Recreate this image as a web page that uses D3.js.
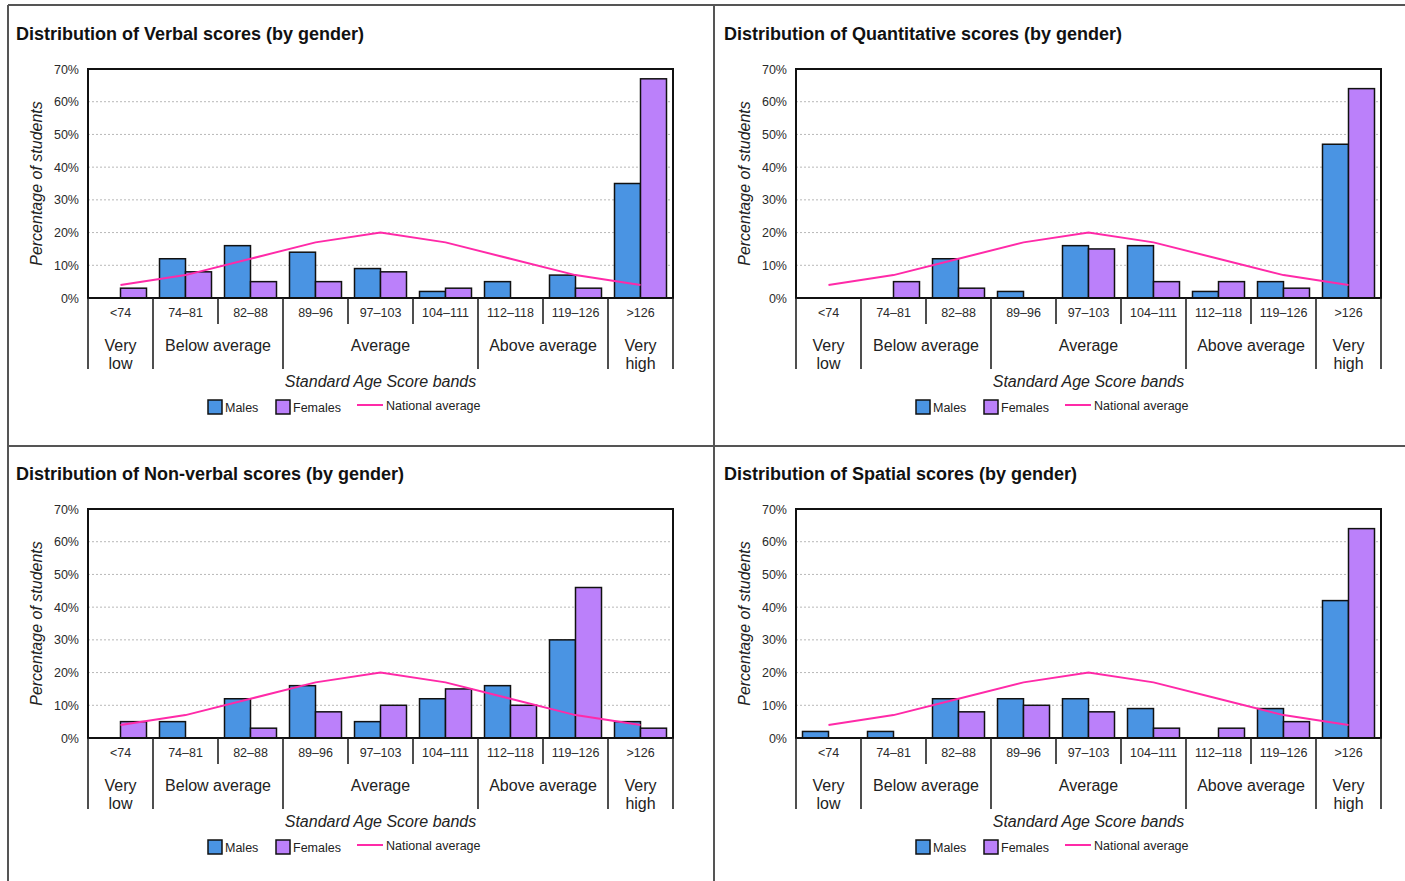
<!DOCTYPE html>
<html>
<head>
<meta charset="utf-8">
<script src="https://cdn.jsdelivr.net/npm/d3@7"></script>
<style>
  html, body { margin: 0; padding: 0; background: #fff; }
  svg { display: block; font-family: "Liberation Sans", Arial, Helvetica, sans-serif; }
</style>
</head>
<body>
<svg id="chart" width="1405" height="881"></svg>
<script>
// ---- Data ----
const bands = ["<74", "74–81", "82–88", "89–96", "97–103", "104–111", "112–118", "119–126", ">126"];
const groups = [
  { name: ["Very", "low"], from: "<74", to: "<74" },
  { name: ["Below average"], from: "74–81", to: "82–88" },
  { name: ["Average"], from: "89–96", to: "104–111" },
  { name: ["Above average"], from: "112–118", to: "119–126" },
  { name: ["Very", "high"], from: ">126", to: ">126" }
];
const nationalAverage = [4, 7, 12, 17, 20, 17, 12, 7, 4];

const verbalMales      = [0, 12, 16, 14, 9, 2, 5, 7, 35];
const verbalFemales    = [3, 8, 5, 5, 8, 3, 0, 3, 67];
const quantMales       = [0, 0, 12, 2, 16, 16, 2, 5, 47];
const quantFemales     = [0, 5, 3, 0, 15, 5, 5, 3, 64];
const nonverbalMales   = [0, 5, 12, 16, 5, 12, 16, 30, 5];
const nonverbalFemales = [5, 0, 3, 8, 10, 15, 10, 46, 3];
const spatialMales     = [2, 2, 12, 12, 12, 9, 0, 9, 42];
const spatialFemales   = [0, 0, 8, 10, 8, 3, 3, 5, 64];

const yTicks = [0, 10, 20, 30, 40, 50, 60, 70];
const seriesNames = ["Males", "Females"];
const seriesColors = ["#4a94e3", "#bb80fa"];
const lineColor = "#ff2aa8";

const panels = [
  { title: "Distribution of Verbal scores (by gender)", males: verbalMales, females: verbalFemales, ox: 0, oy: 0 },
  { title: "Distribution of Quantitative scores (by gender)", males: quantMales, females: quantFemales, ox: 708, oy: 0 },
  { title: "Distribution of Non-verbal scores (by gender)", males: nonverbalMales, females: nonverbalFemales, ox: 0, oy: 440 },
  { title: "Distribution of Spatial scores (by gender)", males: spatialMales, females: spatialFemales, ox: 708, oy: 440 }
];

// ---- Drawing ----
const svg = d3.select("#chart");

// panel grid lines
const grid = svg.append("g").attr("stroke", "#555").attr("stroke-width", 2);
grid.append("line").attr("x1", 8).attr("x2", 1405).attr("y1", 5).attr("y2", 5);
grid.append("line").attr("x1", 8).attr("x2", 8).attr("y1", 5).attr("y2", 881);
grid.append("line").attr("x1", 714).attr("x2", 714).attr("y1", 5).attr("y2", 881);
grid.append("line").attr("x1", 8).attr("x2", 1405).attr("y1", 446).attr("y2", 446);

const L = 88, R = 673, T = 69, B = 298;

panels.forEach(p => {
  const g = svg.append("g").attr("transform", `translate(${p.ox},${p.oy})`);

  const x = d3.scaleBand().domain(bands).range([L, R]).paddingInner(0).paddingOuter(0);
  const xs = d3.scaleBand().domain(seriesNames).range([0, x.bandwidth()]).paddingInner(0).paddingOuter(0.25);
  const y = d3.scaleLinear().domain([0, 70]).range([B, T]);

  // title
  g.append("text").attr("x", 16).attr("y", 40)
    .attr("font-size", 18).attr("font-weight", "bold").attr("fill", "#111")
    .text(p.title);

  // gridlines
  g.append("g").selectAll("line").data(yTicks.filter(t => t > 0 && t < 70)).join("line")
    .attr("x1", L).attr("x2", R)
    .attr("y1", d => y(d)).attr("y2", d => y(d))
    .attr("stroke", "#b8b8b8").attr("stroke-width", 1).attr("stroke-dasharray", "2,2");

  // y axis
  const yAxis = g.append("g").attr("transform", `translate(${L},0)`)
    .call(d3.axisLeft(y).tickValues(yTicks).tickSize(0).tickPadding(9).tickFormat(d => d + "%"));
  yAxis.select(".domain").remove();
  yAxis.selectAll("text").attr("font-size", 12.5).attr("fill", "#2a2a2a").attr("font-family", null);

  // y title
  g.append("text")
    .attr("transform", `translate(42,${(T + B) / 2}) rotate(-90)`)
    .attr("text-anchor", "middle").attr("font-size", 16).attr("font-style", "italic").attr("fill", "#222")
    .text("Percentage of students");

  // bars
  const data = bands.map((b, i) => ({ band: b, vals: [p.males[i], p.females[i]] }));
  const bg = g.append("g");
  data.forEach(d => {
    d.vals.forEach((v, k) => {
      if (v <= 0) return;
      bg.append("rect")
        .attr("x", x(d.band) + xs(seriesNames[k]))
        .attr("y", y(v))
        .attr("width", xs.bandwidth())
        .attr("height", y(0) - y(v))
        .attr("fill", seriesColors[k])
        .attr("stroke", "#111").attr("stroke-width", 1.5);
    });
  });

  // national average line
  const line = d3.line().x((d, i) => x(bands[i]) + x.bandwidth() / 2).y(d => y(d));
  g.append("path").datum(nationalAverage).attr("d", line)
    .attr("fill", "none").attr("stroke", lineColor).attr("stroke-width", 2);

  // plot frame
  g.append("rect").attr("x", L).attr("y", T).attr("width", R - L).attr("height", B - T)
    .attr("fill", "none").attr("stroke", "#111").attr("stroke-width", 2);

  // x axis tick labels
  const xAxis = g.append("g").attr("transform", `translate(0,${B})`)
    .call(d3.axisBottom(x).tickSize(0).tickPadding(10));
  xAxis.select(".domain").remove();
  xAxis.selectAll("text").attr("font-size", 12.5).attr("fill", "#2a2a2a").attr("font-family", null);

  // dividers
  const groupEdges = new Set([L, R]);
  groups.forEach(gr => { groupEdges.add(x(gr.from)); groupEdges.add(x(gr.to) + x.bandwidth()); });
  const edges = bands.map(b => x(b)).concat([R]);
  g.append("g").selectAll("line").data(edges).join("line")
    .attr("x1", d => d).attr("x2", d => d)
    .attr("y1", B).attr("y2", d => groupEdges.has(d) ? 369 : 324)
    .attr("stroke", "#222").attr("stroke-width", 1.6);

  // group labels
  groups.forEach(gr => {
    const cx = (x(gr.from) + x(gr.to) + x.bandwidth()) / 2;
    const t = g.append("text").attr("text-anchor", "middle").attr("font-size", 16).attr("fill", "#222");
    gr.name.forEach((s, i) => {
      t.append("tspan").attr("x", cx).attr("y", 351 + i * 18).text(s);
    });
  });

  // x title
  g.append("text").attr("x", (L + R) / 2).attr("y", 387)
    .attr("text-anchor", "middle").attr("font-size", 16).attr("font-style", "italic").attr("fill", "#222")
    .text("Standard Age Score bands");

  // legend
  const lg = g.append("g").attr("font-size", 12.5).attr("fill", "#222");
  const legendX = [208, 276];
  seriesNames.forEach((n, k) => {
    lg.append("rect").attr("x", legendX[k]).attr("y", 400).attr("width", 14).attr("height", 14)
      .attr("fill", seriesColors[k]).attr("stroke", "#111").attr("stroke-width", 1.5);
    lg.append("text").attr("x", legendX[k] + 17).attr("y", 412).text(n);
  });
  lg.append("line").attr("x1", 357).attr("x2", 383).attr("y1", 405).attr("y2", 405)
    .attr("stroke", lineColor).attr("stroke-width", 2);
  lg.append("text").attr("x", 386).attr("y", 410).text("National average");
});
</script>
</body>
</html>
